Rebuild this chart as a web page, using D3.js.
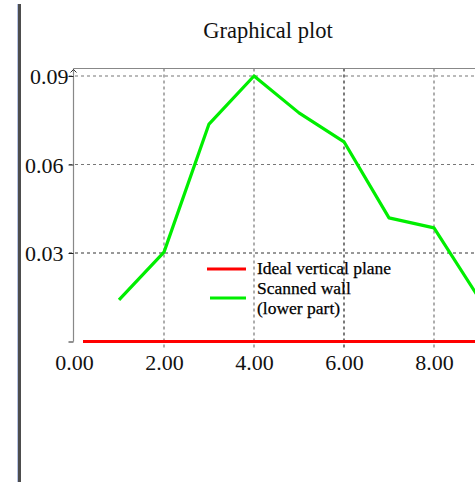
<!DOCTYPE html>
<html><head><meta charset="utf-8">
<script src="https://cdn.jsdelivr.net/npm/d3@7/dist/d3.min.js"></script>
<style>
html,body{margin:0;padding:0;background:#fff;overflow:hidden}
svg{display:block}
text{font-family:"Liberation Serif","Times New Roman",serif;fill:#111}
</style></head>
<body>
<script>
// ---- data ----
const title = "Graphical plot";
const xTicks = [0, 2, 4, 6, 8];
const xTickLabels = ["0.00", "2.00", "4.00", "6.00", "8.00"];
const yTicks = [0.03, 0.06, 0.09];
const yTickLabels = ["0.03", "0.06", "0.09"];
const scannedX = [1, 2, 3, 4, 5, 6, 7, 8, 9];
const scannedY = [0.0141, 0.0303, 0.0737, 0.0900, 0.0775, 0.0677, 0.0419, 0.0385, 0.0147];
const idealX = [0.2, 10];
const idealY = [0, 0];
const seriesNames = ["Ideal vertical plane", "Scanned wall", "(lower part)"];

const W = 475, H = 486;
const svg = d3.select("body").append("svg").attr("width", W).attr("height", H);

// left frame bar
svg.append("rect").attr("x", 17).attr("y", 4).attr("width", 1).attr("height", 478).attr("fill", "#b8c4e6");
svg.append("rect").attr("x", 18).attr("y", 4).attr("width", 3).attr("height", 478).attr("fill", "#4d4d4d");

const x = d3.scaleLinear().domain([0, 10]).range([74, 524]);
const y = d3.scaleLinear().domain([0, 0.09]).range([341.5, 76]);
const plotTop = 68.5;

// title
svg.append("text").attr("x", 268).attr("y", 38).attr("text-anchor", "middle")
  .style("font-size", "22.5px").text(title);

// grid
const g = svg.append("g");
g.selectAll(".vg").data(xTicks.filter(d => d > 0)).join("line")
  .attr("x1", d => x(d)).attr("x2", d => x(d))
  .attr("y1", plotTop).attr("y2", y(0) + 6)
  .attr("stroke", d => d === 6 ? "#222" : "#777").attr("stroke-width", 1.2)
  .attr("stroke-dasharray", "3,3");
g.selectAll(".hg").data(yTicks).join("line")
  .attr("x1", x(0) - 5).attr("x2", W)
  .attr("y1", d => y(d)).attr("y2", d => y(d))
  .attr("stroke", d => d === 0.03 ? "#333" : "#777").attr("stroke-width", 1.2)
  .attr("stroke-dasharray", "3,3");

// frame lines
svg.append("line").attr("x1", x(0) - 0.5).attr("x2", W).attr("y1", plotTop).attr("y2", plotTop)
  .attr("stroke", "#888").attr("stroke-width", 1.2);
svg.append("line").attr("x1", x(0) - 0.5).attr("x2", x(0) - 0.5).attr("y1", plotTop).attr("y2", y(0))
  .attr("stroke", "#888").attr("stroke-width", 1.2);
// small arrow at top of y-axis
svg.append("path").attr("d", `M${x(0)-3.5},${plotTop+4} L${x(0)-0.5},${plotTop+1} L${x(0)+2.5},${plotTop+4}`)
  .attr("fill", "none").attr("stroke", "#333").attr("stroke-width", 1);

// y axis labels via d3 axis
const yAxis = d3.axisLeft(y).tickValues([0, ...yTicks]).tickSize(5)
  .tickFormat((d, i) => i === 0 ? "" : yTickLabels[i - 1]);
const ya = svg.append("g").attr("transform", `translate(${x(0) - 0.5},0)`).call(yAxis);
ya.select(".domain").remove();
ya.selectAll(".tick line").attr("stroke", "#222");
ya.selectAll(".tick text").style("font-size", "22px").attr("x", -10).attr("dy", "0.35em")
  .style("font-family", '"Liberation Serif",serif').attr("fill", "#111");
ya.selectAll(".tick text").filter(d => d === 0.09).attr("x", -5);

// x axis labels
const xAxis = d3.axisBottom(x).tickValues(xTicks).tickSize(0)
  .tickFormat((d, i) => xTickLabels[i]);
const xa = svg.append("g").attr("transform", `translate(0,${y(0)})`).call(xAxis);
xa.select(".domain").remove();
xa.selectAll(".tick text").style("font-size", "22px").attr("y", 13).attr("dy", "0.71em")
  .style("font-family", '"Liberation Serif",serif').attr("fill", "#111");

// lines
const line = d3.line().x(d => x(d[0])).y(d => y(d[1]));
svg.append("path").datum(idealX.map((v, i) => [v, idealY[i]])).attr("d", line)
  .attr("fill", "none").attr("stroke", "#ff0000").attr("stroke-width", 3);
svg.append("path").datum(scannedX.map((v, i) => [v, scannedY[i]])).attr("d", line)
  .attr("fill", "none").attr("stroke", "#00ee00").attr("stroke-width", 3.2).attr("stroke-linejoin", "round");

// legend
const lg = svg.append("g");
lg.append("line").attr("x1", 207).attr("x2", 246).attr("y1", 269).attr("y2", 269)
  .attr("stroke", "#ff0000").attr("stroke-width", 3);
lg.append("line").attr("x1", 210).attr("x2", 246).attr("y1", 298).attr("y2", 298)
  .attr("stroke", "#00ee00").attr("stroke-width", 3);
lg.selectAll("text.lt").data(seriesNames).join("text").attr("class", "lt")
  .attr("x", 257).attr("y", (d, i) => 274 + i * 20)
  .style("font-size", "17.5px").style("fill", "#000").style("stroke", "#000").style("stroke-width", 0.25)
  .text(d => d);
</script>
</body></html>
